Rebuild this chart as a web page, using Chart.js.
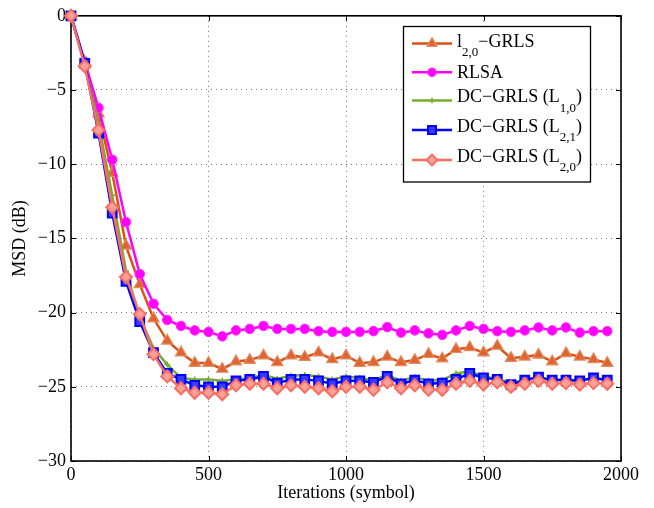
<!DOCTYPE html>
<html>
<head>
<meta charset="utf-8">
<script src="https://cdn.jsdelivr.net/npm/chart.js@4/dist/chart.umd.min.js"></script>
<style>
html,body{margin:0;padding:0;background:#fff;}
#wrap{width:654px;height:508px;}
</style>
</head>
<body>
<div id="wrap"><canvas id="c" width="654" height="508"></canvas></div>
<script>
// ---- data ----
const iterations = [0,50,100,150,200,250,300,350,400,450,500,550,600,650,700,750,800,850,900,950,
                    1000,1050,1100,1150,1200,1250,1300,1350,1400,1450,1500,1550,1600,1650,1700,1750,1800,1850,1900,1950];
const l20GRLS = [0,-3.1,-6.6,-10.6,-15.5,-18.1,-20.4,-21.9,-22.7,-23.4,-23.4,-23.8,-23.3,-23.2,-22.9,-23.35,-22.9,-23.0,-22.7,-23.15,
                 -22.9,-23.4,-23.35,-22.98,-23.35,-23.2,-22.8,-23.1,-22.47,-22.35,-22.7,-22.25,-23.07,-22.98,-22.85,-23.3,-22.75,-22.98,-23.15,-23.4];
const rlsa = [0,-3.1,-6.2,-9.7,-13.9,-17.4,-19.4,-20.5,-20.9,-21.2,-21.3,-21.6,-21.2,-21.1,-20.9,-21.1,-21.1,-21.1,-21.25,-21.3,
              -21.3,-21.3,-21.25,-20.98,-21.35,-21.2,-21.4,-21.5,-21.2,-20.9,-21.1,-21.25,-21.3,-21.2,-21.0,-21.2,-21.0,-21.35,-21.25,-21.25];
const dcL10 = [0,-3.3,-7.2,-12.1,-17.2,-20.3,-22.4,-23.5,-24.4,-24.5,-24.5,-24.6,-24.5,-24.4,-24.2,-24.45,-24.25,-24.2,-24.3,-24.5,
               -24.3,-24.4,-24.55,-24.2,-24.6,-24.35,-24.6,-24.55,-24.1,-23.95,-24.3,-24.45,-24.75,-24.5,-24.35,-24.55,-24.5,-24.6,-24.4,-24.55];
const dcL21 = [0,-3.2,-7.9,-13.3,-17.9,-20.6,-22.7,-24.1,-24.5,-24.9,-25.0,-25.0,-24.6,-24.5,-24.3,-24.75,-24.5,-24.5,-24.6,-24.8,
               -24.6,-24.6,-24.7,-24.3,-24.8,-24.55,-24.8,-24.75,-24.5,-24.1,-24.4,-24.5,-24.85,-24.55,-24.35,-24.55,-24.55,-24.6,-24.4,-24.55];
const dcL20 = [0,-3.4,-7.7,-12.9,-17.6,-20.1,-22.8,-24.3,-25.1,-25.4,-25.4,-25.5,-24.9,-24.8,-24.8,-25.1,-24.9,-25.0,-25.1,-25.3,
               -25.0,-25.0,-25.2,-24.7,-25.1,-24.9,-25.2,-25.2,-24.8,-24.6,-24.85,-24.7,-25.0,-24.8,-24.6,-24.8,-24.75,-24.85,-24.75,-24.8];
const xTicks = [0,500,1000,1500,2000];
const yTicks = [0,-5,-10,-15,-20,-25,-30];
// legend labels: [text, isSubscript] pieces
const legendLabels = [
  [['l',0],['2,0',1],['\u2212GRLS',0]],
  [['RLSA',0]],
  [['DC\u2212GRLS (L',0],['1,0',1],[')',0]],
  [['DC\u2212GRLS (L',0],['2,1',1],[')',0]],
  [['DC\u2212GRLS (L',0],['2,0',1],[')',0]]
];

const FONT = '"Liberation Serif", "Times New Roman", serif';
const pts = arr => iterations.map((x,i)=>({x:x,y:arr[i]}));

const datasets = [
  {label:'l2,0-GRLS', data:pts(l20GRLS), borderColor:'#D95319', borderWidth:2.5,
   pointStyle:'triangle', pointRadius:6.5, pointBackgroundColor:'#DE6430', pointBorderColor:'#E58A63', pointBorderWidth:1.2, order:5},
  {label:'RLSA', data:pts(rlsa), borderColor:'#FF00FF', borderWidth:2.5,
   pointStyle:'circle', pointRadius:4.8, pointBackgroundColor:'#FF00FF', pointBorderColor:'#FF33FF', pointBorderWidth:1, order:4},
  {label:'DC-GRLS (L1,0)', data:pts(dcL10), borderColor:'#77AC30', borderWidth:2.5,
   pointStyle:'cross', pointRadius:3, pointBackgroundColor:'#77AC30', pointBorderColor:'#77AC30', pointBorderWidth:1.5, order:3},
  {label:'DC-GRLS (L2,1)', data:pts(dcL21), borderColor:'#0000FF', borderWidth:2.5,
   pointStyle:'rect', pointRadius:6.2, pointBackgroundColor:'#3a3aff', pointBorderColor:'#0000FF', pointBorderWidth:2, order:2},
  {label:'DC-GRLS (L2,0)', data:pts(dcL20), borderColor:'#F96E62', borderWidth:2.5,
   pointStyle:'rectRot', pointRadius:6, pointBackgroundColor:'#FBA096', pointBorderColor:'#F96E62', pointBorderWidth:2, order:1}
];
datasets.forEach(d=>{ d.tension=0; d.fill=false; d.clip=false; d.pointHoverRadius=d.pointRadius; });

const framePlugin = {
  id:'frame',
  beforeDatasetsDraw(chart){
    const {ctx, chartArea:a, scales} = chart;
    const x = scales.x, y = scales.y;
    ctx.save();
    ctx.strokeStyle = '#000';
    ctx.lineWidth = 1;
    const L = 5;
    ctx.beginPath();
    xTicks.forEach(v=>{
      const px = Math.round(x.getPixelForValue(v))+0.5;
      ctx.moveTo(px,a.bottom); ctx.lineTo(px,a.bottom-L);
      ctx.moveTo(px,a.top); ctx.lineTo(px,a.top+L);
    });
    yTicks.forEach(v=>{
      const py = Math.round(y.getPixelForValue(v))+0.5;
      ctx.moveTo(a.left,py); ctx.lineTo(a.left+L,py);
      ctx.moveTo(a.right,py); ctx.lineTo(a.right-L,py);
    });
    ctx.stroke();
    ctx.lineWidth = 1.6;
    ctx.strokeRect(a.left, a.top, a.right-a.left, a.bottom-a.top);
    ctx.restore();
  }
};

const legendPlugin = {
  id:'customLegend',
  afterDraw(chart){
    const ctx = chart.ctx;
    const box = {l:403.5, t:26.5, r:590.5, b:182};
    ctx.save();
    ctx.fillStyle = '#fff';
    ctx.fillRect(box.l, box.t, box.r-box.l, box.b-box.t);
    ctx.strokeStyle = '#000';
    ctx.lineWidth = 1.3;
    ctx.strokeRect(box.l, box.t, box.r-box.l, box.b-box.t);
    const lineYs = [43.5, 72.3, 100.5, 130, 160];
    const baseOff = [3.4, 6, 1.7, 1.7, 1.7];
    chart.data.datasets.forEach((ds,i)=>{
      const yy = lineYs[i];
      ctx.strokeStyle = ds.borderColor;
      ctx.lineWidth = ds.borderWidth;
      ctx.beginPath(); ctx.moveTo(412,yy); ctx.lineTo(452,yy); ctx.stroke();
      ctx.fillStyle = ds.pointBackgroundColor;
      ctx.strokeStyle = ds.pointBorderColor;
      ctx.lineWidth = ds.pointBorderWidth;
      Chart.helpers.drawPoint(ctx, {pointStyle:ds.pointStyle, radius:ds.pointRadius*0.9, rotation:0, borderWidth:ds.pointBorderWidth}, 432, yy);
      // text
      let tx = 457;
      const base = yy + baseOff[i];
      ctx.fillStyle = '#000';
      ctx.textBaseline = 'alphabetic';
      ctx.textAlign = 'left';
      legendLabels[i].forEach(([s,sub])=>{
        ctx.font = (sub ? '13px ' : '18px ') + FONT;
        ctx.fillText(s, tx, sub ? base+9.5 : base);
        tx += ctx.measureText(s).width;
      });
    });
    ctx.restore();
  }
};

const minusFmt = v => (v < 0 ? '\u2212' + Math.abs(v) : String(v));

new Chart(document.getElementById('c'), {
  type:'line',
  data:{datasets:datasets},
  plugins:[framePlugin, legendPlugin],
  options:{
    responsive:false,
    devicePixelRatio:1,
    animation:false,
    events:[],
    layout:{padding:{top:12.5, right:33, left:0, bottom:0}},
    plugins:{legend:{display:false}, tooltip:{enabled:false}, title:{display:false}},
    scales:{
      x:{
        type:'linear', min:0, max:2000,
        afterBuildTicks(s){ s.ticks = xTicks.map(v=>({value:v})); },
        afterFit(s){ s.height = 47; },
        ticks:{ color:'#000', font:{family:FONT, size:18}, padding:3, maxRotation:0, callback:minusFmt },
        grid:{ color:'rgba(0,0,0,0.55)', lineWidth:1, drawTicks:false },
        border:{ display:false, dash:[1,4] },
        title:{ display:true, text:'Iterations (symbol)', color:'#000', font:{family:FONT, size:18}, padding:{top:0,bottom:4} }
      },
      y:{
        type:'linear', min:-30, max:0,
        afterBuildTicks(s){ s.ticks = yTicks.map(v=>({value:v})); },
        afterFit(s){ s.width = 71; },
        ticks:{ color:'#000', font:{family:FONT, size:18}, padding:5, callback:minusFmt },
        grid:{ color:'rgba(0,0,0,0.55)', lineWidth:1, drawTicks:false },
        border:{ display:false, dash:[1,4] },
        title:{ display:true, text:'MSD (dB)', color:'#000', font:{family:FONT, size:18}, padding:{top:9,bottom:0} }
      }
    }
  }
});
</script>
</body>
</html>
